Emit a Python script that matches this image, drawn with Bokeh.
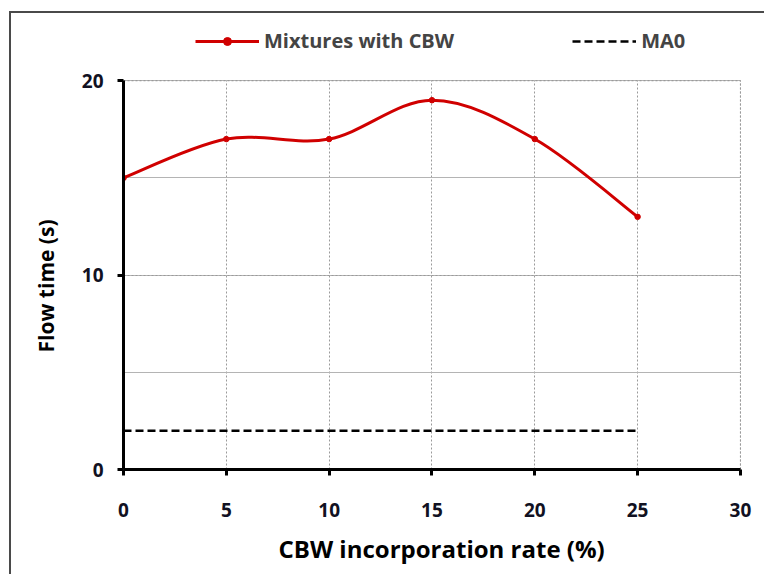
from bokeh.plotting import figure
from bokeh.models import (Range1d, SingleIntervalTicker, Legend, LegendItem, Title)
from bokeh.embed import file_html
from bokeh.resources import INLINE

# CBW incorporation rate (%) and measured flow time (s)
rate = [0, 5, 10, 15, 20, 25]
flow_cbw = [15, 17, 17, 19, 17, 13]
# reference mixture MA0 (constant flow time)
ma0_rate = [0, 25]
ma0_flow = [2, 2]

x_ticks = [0, 5, 10, 15, 20, 25, 30]
y_ticks = [0, 10, 20]
FONT = "Open Sans"

x_max = x_ticks[-1]
y_max = y_ticks[-1]

# the frame reaches above y=20 to leave room for the legend; axes and grids
# are bounded to the 0-30 / 0-20 data box
p = figure(width=755, height=563, output_backend="svg", toolbar_location=None,
           x_range=Range1d(0, 30.15), y_range=Range1d(0, 23.1),
           min_border_left=112, min_border_right=23, min_border_top=7,
           min_border_bottom=107)
p.styles = {"margin-left": "9px", "margin-top": "11px",
            "border-left": "2px solid #4a4a4a", "border-top": "2px solid #4a4a4a"}
p.outline_line_color = None
p.background_fill_color = "white"
p.border_fill_color = "white"

# dotted closing lines of the plot box (top at y=20, right at x=30)
p.segment(x0=[0, x_max], y0=[y_max, 0], x1=[x_max, x_max], y1=[y_max, y_max],
          line_color="#9a9a9a", line_width=1, line_dash="2 2", level="underlay")

# smoothed curve through the points (cardinal spline as cubic Bezier segments)
n = len(rate)
x0, y0, x1, y1, cx0, cy0, cx1, cy1 = [], [], [], [], [], [], [], []
for i in range(n - 1):
    xa, ya = rate[max(i - 1, 0)], flow_cbw[max(i - 1, 0)]
    xb, yb = rate[i], flow_cbw[i]
    xc, yc = rate[i + 1], flow_cbw[i + 1]
    xd, yd = rate[min(i + 2, n - 1)], flow_cbw[min(i + 2, n - 1)]
    x0.append(xb); y0.append(yb); x1.append(xc); y1.append(yc)
    cx0.append(xb + (xc - xa) / 6); cy0.append(yb + (yc - ya) / 6)
    cx1.append(xc - (xd - xb) / 6); cy1.append(yc - (yd - yb) / 6)

curve = p.bezier(x0=x0, y0=y0, x1=x1, y1=y1, cx0=cx0, cy0=cy0, cx1=cx1, cy1=cy1,
                 line_color="#d00000", line_width=3)
pts = p.scatter(rate, flow_cbw, size=5.5, color="#d00000")
ma0 = p.line(ma0_rate, ma0_flow, line_color="black", line_width=2.5, line_dash="8 4")

# axes
p.xaxis.ticker = x_ticks
p.yaxis.ticker = SingleIntervalTicker(interval=10, num_minor_ticks=2)
p.xaxis.bounds = (0, x_max)
p.yaxis.bounds = (0, y_max)
for ax in (p.xaxis[0], p.yaxis[0]):
    ax.axis_line_width = 3
    ax.axis_line_color = "black"
    ax.major_tick_line_width = 3
    ax.major_tick_line_color = "black"
    ax.major_tick_out = 6
    ax.major_tick_in = 0
    ax.minor_tick_out = 0
    ax.minor_tick_in = 0
    ax.major_label_text_font = FONT
    ax.major_label_text_font_style = "bold"
    ax.major_label_text_font_size = "19px"
    ax.major_label_text_color = "#111122"
p.xaxis.major_label_standoff = 27
p.yaxis.major_label_standoff = 14

# axis titles, placed along the 0-30 / 0-20 box
x_title = Title(text="CBW incorporation  rate (%)", align="left", offset=155,
                standoff=20, text_font=FONT, text_font_style="bold",
                text_font_size="24px", text_color="black")
y_title = Title(text="Flow time (s)", align="left", offset=117,
                standoff=37, text_font=FONT, text_font_style="bold",
                text_font_size="21px", text_color="black")
p.add_layout(x_title, "below")
p.add_layout(y_title, "left")

# grid: dotted major lines, solid light minor lines on y
p.xgrid.bounds = (-1, 31)
p.xgrid.cross_bounds = (0, y_max)
p.ygrid.bounds = (-1, 21)
p.ygrid.cross_bounds = (0, x_max)
p.xgrid.grid_line_color = "#9a9a9a"
p.xgrid.grid_line_dash = "2 2"
p.xgrid.grid_line_width = 1
p.ygrid.grid_line_color = "#9a9a9a"
p.ygrid.grid_line_dash = "2 2"
p.ygrid.minor_grid_line_color = "#b4b4b4"
p.ygrid.minor_grid_line_width = 1

legend = Legend(items=[LegendItem(label="Mixtures with CBW", renderers=[curve, pts]),
                       LegendItem(label="MA0", renderers=[ma0])],
                orientation="horizontal", location=(68, 411),
                glyph_width=64, label_standoff=5, spacing=118,
                label_text_font=FONT, label_text_font_style="bold",
                label_text_font_size="20px", border_line_alpha=0,
                background_fill_alpha=0, padding=4, margin=0)
p.add_layout(legend)

open("out.html", "w").write(file_html(p, INLINE))
